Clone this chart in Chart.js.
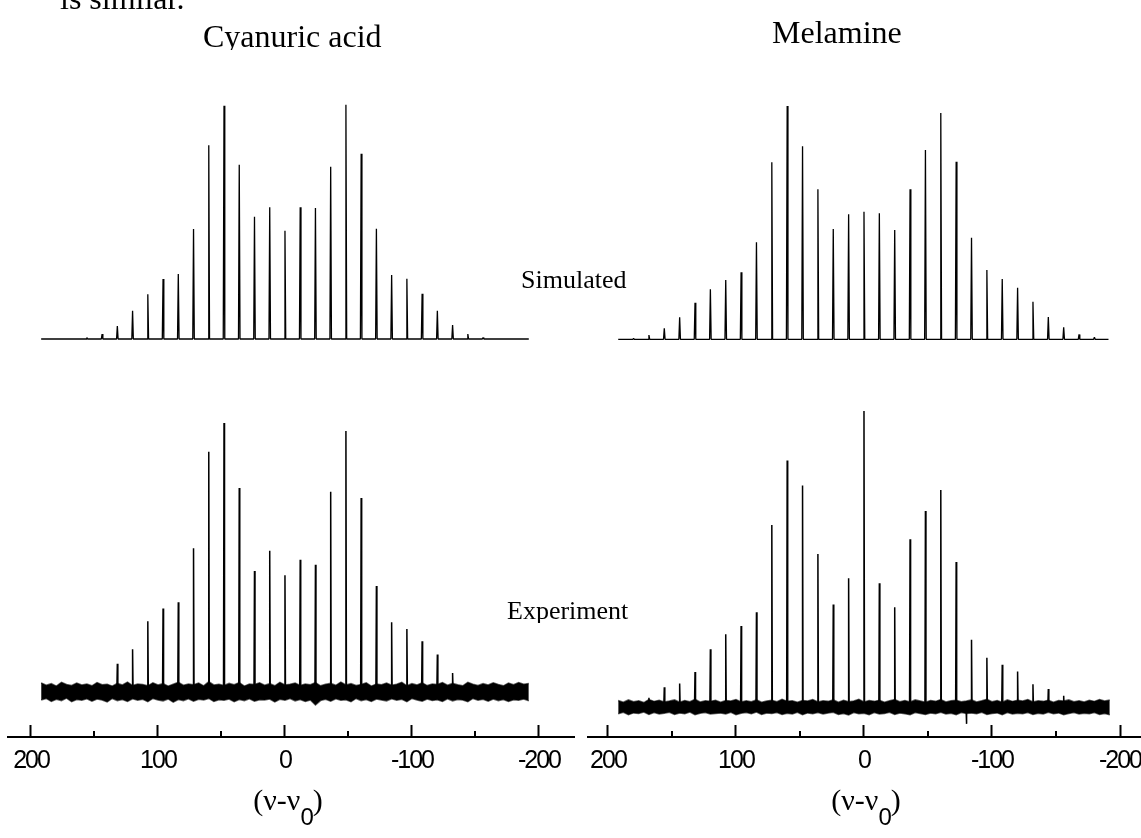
<!DOCTYPE html>
<html><head><meta charset="utf-8">
<script src="https://cdn.jsdelivr.net/npm/chart.js@4.4.1/dist/chart.umd.min.js"></script>
<style>
html,body{margin:0;padding:0;background:#fff;overflow:hidden;width:1141px;height:838px;}
#page{position:relative;width:1141px;height:838px;overflow:hidden;background:#fff;}
canvas{position:absolute;top:0;}
.t{position:absolute;font-family:"Liberation Serif","Times New Roman",serif;color:#000;line-height:1;white-space:nowrap;}
.clip{position:absolute;left:0;top:0;width:1141px;overflow:hidden;}
.ax{position:absolute;width:140px;text-align:center;font-family:"Liberation Serif","Times New Roman",serif;font-size:30px;line-height:1;color:#000;white-space:nowrap;}
.ax .s{font-family:"Liberation Sans",Arial,sans-serif;font-size:24px;position:relative;top:15px;letter-spacing:-1px;}
</style></head><body>
<div id="page">
  <canvas id="c1" width="580" height="838" style="left:0px"></canvas>
  <canvas id="c2" width="600" height="838" style="left:580px"></canvas>

  <div class="t" style="left:60px;top:-18px;font-size:32px">is similar.</div>
  <div class="clip" style="height:50px"><div class="t" style="left:203px;top:20px;font-size:32px">Cyanuric acid</div></div>
  <div class="t" style="left:772px;top:16px;font-size:32px">Melamine</div>
  <div class="t" style="left:521px;top:267px;font-size:26px">Simulated</div>
  <div class="clip" style="height:623px"><div class="t" style="left:507px;top:598px;font-size:26px">Experiment</div></div>
  <div class="ax" style="left:218px;top:785px">(ν-ν<span class="s">0</span>)</div>
  <div class="ax" style="left:796px;top:785px">(ν-ν<span class="s">0</span>)</div>
</div>
<script>
// ---- axis ticks ----
const xMajorTicks = [200, 100, 0, -100, -200];
const xMinorTicks = [150, 50, -50, -150];

// ---- Cyanuric acid ----
const cyanSimPos = [156,144,132,120,108,96,84,72,60,48,36,24,12,0,-12,-24,-36,-48,-60,-72,-84,-96,-108,-120,-132,-144,-156];
const cyanSimInt = [0.6,2.1,5.5,12.0,19.1,25.6,27.7,46.9,82.7,99.6,74.4,52.2,56.2,46.2,56.2,55.9,73.5,100,79.1,47.1,27.3,25.7,19.3,12.0,6.0,2.1,0.6];
const cyanExpPos = [132,120,108,96,84,72,60,48,36,24,12,0,-12,-24,-36,-48,-60,-72,-84,-96,-108,-120,-132];
const cyanExpInt = [10.5,15.9,26.3,31.0,33.4,53.4,89.3,100,75.8,45.0,52.5,43.4,49.2,47.3,74.4,97.0,72.1,39.4,25.9,23.4,18.9,13.9,7.1];

// ---- Melamine ----
const melaSimPos = [180,168,156,144,132,120,108,96,84,72,60,48,36,24,12,0,-12,-24,-36,-48,-60,-72,-84,-96,-108,-120,-132,-144,-156,-168,-180];
const melaSimInt = [0.4,1.8,4.7,9.4,15.7,21.4,25.4,28.7,41.6,75.9,100,82.7,64.3,47.3,53.6,54.7,54.0,46.9,64.3,81.1,97.0,76.1,43.5,29.7,25.8,22.1,16.1,9.6,5.1,2.1,0.9];
const melaExpPos = [168,156,144,132,120,108,96,84,72,60,48,36,24,12,0,-12,-24,-36,-48,-60,-72,-84,-96,-108,-120,-132,-144,-156];
const melaExpInt = [3.1,6.7,7.9,11.8,19.5,24.6,27.4,32.0,61.5,83.3,74.8,51.7,34.6,43.5,100,41.8,33.7,56.7,66.2,73.3,49.0,22.7,16.6,14.3,12.0,7.7,6.1,3.8];
const melaDipPos = [-80];
const melaDipInt = [-5.7];

const noiseX = [192,188,184,180,176,172,168,164,160,156,152,148,144,140,136,132,128,124,120,116,112,108,104,100,96,92,88,84,80,76,72,68,64,60,56,52,48,44,40,36,32,28,24,20,16,12,8,4,0,-4,-8,-12,-16,-20,-24,-28,-32,-36,-40,-44,-48,-52,-56,-60,-64,-68,-72,-76,-80,-84,-88,-92,-96,-100,-104,-108,-112,-116,-120,-124,-128,-132,-136,-140,-144,-148,-152,-156,-160,-164,-168,-172,-176,-180,-184,-188,-192];
const cyanNoiseHi = [3.4,2.5,3.1,2.2,3.6,2.8,2.4,3.3,2.6,3.0, 2.3,3.5,2.7,2.9,2.2,3.2,2.6,3.7,2.4,3.0, 2.8,2.3,3.4,2.6,3.1,2.2,2.9,3.6,2.5,3.0, 2.7,3.3,2.3,3.8,2.6,2.9,2.4,3.2,2.7,3.5, 2.2,3.0,2.8,3.4,2.5,3.1,2.3,3.6,2.6,2.9, 3.3,2.4,3.0,2.7,3.5,2.3,2.9,3.2,2.5,3.7, 2.6,3.1,2.4,2.8,3.4,2.2,3.0,2.7,3.3,2.5, 2.9,3.6,2.3,3.1,2.6,3.4,2.4,3.0,2.8,3.5, 2.5,3.2,2.7,2.3,3.6,2.9,2.4,3.1,2.6,3.4, 2.8,2.3,3.3,2.7,3.5,2.9,3.2];
const cyanNoiseLo = [-3.0,-2.4,-3.5,-2.7,-3.2,-2.3,-3.6,-2.8,-3.1,-2.5, -3.4,-2.6,-3.0,-3.7,-2.4,-3.2,-2.8,-3.5,-2.5,-3.1, -2.7,-3.6,-2.4,-3.0,-3.3,-2.6,-3.8,-2.8,-3.2,-2.5, -3.4,-2.7,-3.0,-2.4,-3.5,-2.9,-3.1,-2.6,-3.6,-2.8, -3.2,-2.5,-3.4,-2.9,-3.0,-2.6,-3.7,-2.7,-3.1,-2.4, -3.3,-2.8,-3.5,-3.0,-4.8,-3.2,-2.7,-3.4,-2.5,-3.1, -2.9,-3.6,-2.4,-3.2,-2.8,-3.5,-2.6,-3.0,-3.3,-2.5, -3.1,-2.7,-3.6,-2.4,-3.0,-3.4,-2.6,-3.2,-2.9,-3.5, -2.5,-3.3,-2.8,-3.0,-3.6,-2.4,-3.1,-2.7,-3.4,-2.6, -3.2,-2.8,-3.5,-2.9,-3.1,-2.6,-3.3];
const melaNoiseHi = [2.2,1.6,2.4,1.8,2.1,1.5,2.5,1.9,2.3,1.7, 2.0,2.4,1.6,2.2,1.8,2.6,1.7,2.1,1.9,2.3, 1.6,2.2,2.0,2.5,1.7,2.1,1.8,2.4,1.6,2.0, 2.3,1.8,2.6,1.9,2.1,1.6,2.2,2.0,2.5,1.7, 2.1,1.9,2.4,1.6,2.3,1.8,2.0,2.6,1.7,2.2, 1.9,2.3,1.6,2.1,2.5,1.8,2.2,1.7,2.4,2.0, 1.6,2.2,1.9,2.5,1.7,2.1,2.3,1.8,2.0,2.4, 1.7,2.1,2.6,1.8,2.2,1.6,2.4,1.9,2.3,2.0, 2.5,1.7,2.1,1.9,2.3,1.6,2.2,2.0,2.4,1.8, 2.1,1.7,2.3,1.9,2.5,2.0,2.4];
const melaNoiseLo = [-2.3,-1.8,-2.6,-2.0,-2.2,-1.7,-2.5,-1.9,-2.4,-2.1, -1.8,-2.5,-2.0,-2.3,-1.7,-2.6,-2.1,-1.9,-2.4,-2.2, -2.0,-2.4,-1.8,-2.6,-2.1,-1.9,-2.3,-1.7,-2.5,-2.0, -2.2,-1.9,-2.5,-2.1,-2.4,-1.8,-2.6,-2.0,-2.3,-1.9, -2.4,-2.0,-1.8,-2.5,-2.2,-2.7,-1.9,-2.3,-2.1,-2.6, -1.9,-2.4,-2.2,-1.8,-2.5,-2.0,-2.3,-2.6,-1.9,-2.2, -2.5,-2.0,-2.3,-1.8,-2.4,-2.1,-2.6,-1.9,-2.2,-2.0, -2.3,-1.8,-2.5,-2.2,-2.0,-2.6,-1.9,-2.4,-2.1,-2.3, -1.9,-2.5,-2.1,-2.4,-1.8,-2.3,-2.0,-2.6,-2.2,-1.9, -2.4,-2.1,-2.3,-1.9,-2.5,-2.2,-2.6];

// ---- helpers (build point lists from the arrays) ----
function spikeLine(pos, ints, halfW, from, to) {
  const pts = [];
  if (from !== undefined) pts.push({x: from, y: 0});
  pos.forEach((p, i) => {
    pts.push({x: p + halfW, y: 0}, {x: p, y: ints[i]}, {x: p - halfW, y: 0});
  });
  if (to !== undefined) pts.push({x: to, y: 0});
  return pts;
}
function envelope(xs, ys) { return xs.map((x, i) => ({x: x, y: ys[i]})); }

const axisPlugin = {
  id: 'axisExtras',
  beforeDraw(chart) { chart.ctx.letterSpacing = '-2px'; },
  afterDraw(chart) {
    const s = chart.scales.x, ctx = chart.ctx;
    ctx.save();
    ctx.strokeStyle = '#000';
    ctx.lineWidth = 2;
    xMinorTicks.forEach(v => {
      const px = Math.round(s.getPixelForValue(v));
      ctx.beginPath();
      ctx.moveTo(px, s.top + 1);
      ctx.lineTo(px, s.top - 6);
      ctx.stroke();
    });
    ctx.restore();
  }
};

function makeChart(id, cfg) {
  const lineStyle = {borderColor: '#000', pointRadius: 0, tension: 0, borderJoinStyle: 'bevel', fill: false};
  const datasets = [
    Object.assign({label: 'Simulated', yAxisID: 'ySim', borderWidth: 1.3,
      data: spikeLine(cfg.simPos, cfg.simInt, 0.6, cfg.simFrom, cfg.simTo)}, lineStyle),
    Object.assign({label: 'Experiment', yAxisID: 'yExp', borderWidth: 1.5,
      data: spikeLine(cfg.expPos, cfg.expInt, 0.4)}, lineStyle)
  ];
  if (cfg.dipPos) {
    datasets.push(Object.assign({label: 'Artifact', yAxisID: 'yExp', borderWidth: 1.5,
      data: spikeLine(cfg.dipPos, cfg.dipInt, 0.3)}, lineStyle));
  }
  datasets.push(
    {label: 'noiseHi', yAxisID: 'yExp', data: envelope(noiseX, cfg.noiseHi), borderColor: 'rgba(0,0,0,0.6)', backgroundColor: '#000',
     borderWidth: 1.5, pointRadius: 0, tension: 0, fill: '+1'},
    {label: 'noiseLo', yAxisID: 'yExp', data: envelope(noiseX, cfg.noiseLo), borderColor: 'rgba(0,0,0,0.6)', backgroundColor: '#000',
     borderWidth: 1.5, pointRadius: 0, tension: 0, fill: false}
  );
  return new Chart(document.getElementById(id), {
    type: 'line',
    data: {datasets: datasets},
    plugins: [axisPlugin],
    options: {
      responsive: false,
      animation: false,
      events: [],
      layout: {padding: cfg.padding},
      plugins: {legend: {display: false}, tooltip: {enabled: false}, title: {display: false}},
      scales: {
        x: {
          type: 'linear', reverse: true, min: cfg.xMin, max: cfg.xMax,
          afterBuildTicks: s => { s.ticks = xMajorTicks.map(v => ({value: v})); },
          grid: {display: true, drawOnChartArea: false, drawTicks: true, tickLength: -12, tickWidth: 2, tickColor: '#000'},
          border: {display: true, color: '#000', width: 2},
          ticks: {
            font: {family: '"Liberation Sans", Arial, sans-serif', size: 25, lineHeight: 2.4},
            color: '#000', padding: 6, maxRotation: 0, minRotation: 0, autoSkip: false, includeBounds: false,
            callback: v => String(v)
          }
        },
        ySim: {type: 'linear', display: false, min: cfg.simMin, max: cfg.simMax},
        yExp: {type: 'linear', display: false, min: cfg.expMin, max: cfg.expMax}
      }
    }
  });
}

makeChart('c1', {
  simPos: cyanSimPos, simInt: cyanSimInt, simFrom: 192, simTo: -192,
  expPos: cyanExpPos, expInt: cyanExpInt,
  noiseHi: cyanNoiseHi, noiseLo: cyanNoiseLo,
  xMin: -227.6, xMax: 218.1,
  simMin: -169.87, simMax: 144.69,
  expMin: -16.73, expMax: 257.25,
  padding: {left: 8, right: 6, top: 0, bottom: 41}
});
makeChart('c2', {
  simPos: melaSimPos, simInt: melaSimInt, simFrom: 192, simTo: -191,
  expPos: melaExpPos, expInt: melaExpInt, dipPos: melaDipPos, dipInt: melaDipInt,
  noiseHi: melaNoiseHi, noiseLo: melaNoiseLo,
  xMin: -216.4, xMax: 215.6,
  simMin: -170.47, simMax: 145.44,
  expMin: -10.14, expMax: 238.85,
  padding: {left: 8, right: 39, top: 0, bottom: 41}
});
</script>
</body></html>
